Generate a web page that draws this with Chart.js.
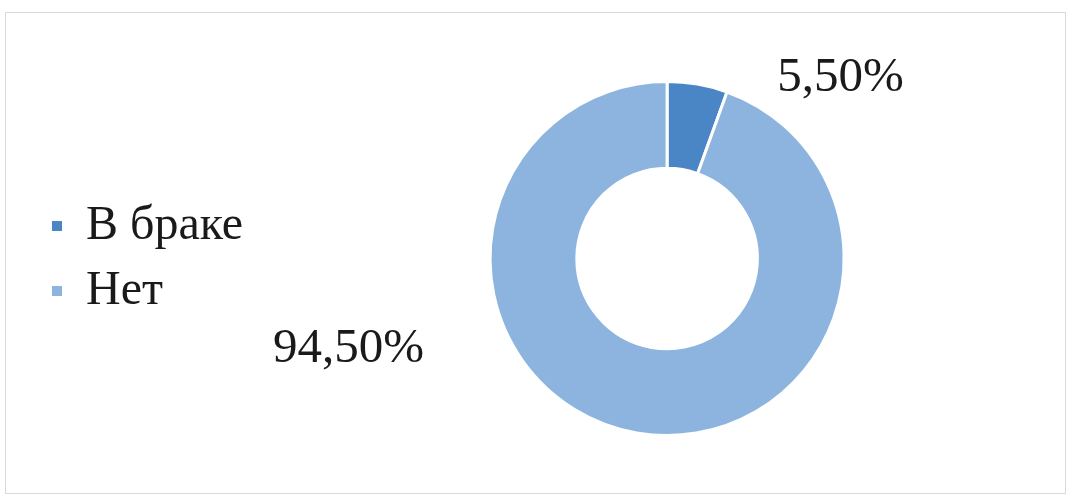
<!DOCTYPE html>
<html>
<head>
<meta charset="utf-8">
<script src="https://cdn.jsdelivr.net/npm/chart.js@4"></script>
<style>
  html, body { margin: 0; padding: 0; background: #fff; overflow: hidden; }
  #wrap { width: 1071px; height: 499px; overflow: hidden; }
</style>
</head>
<body>
<div id="wrap"><canvas id="chart" width="1081" height="499"></canvas></div>
<script>
// данные диаграммы
const categories = ['В браке', 'Нет'];
const shareValues = [5.5, 94.5];
const shareLabels = ['5,50%', '94,50%'];

const sliceColors = ['#4a86c5', '#8db4de'];
// смещение подписи от центра кольца, в долях внешнего радиуса
const labelOffsets = [[0.98, -1.02], [-1.80, 0.51]];

const frameBorder = {
    id: 'frameBorder',
    beforeDraw(chart) {
        const ctx = chart.ctx;
        ctx.save();
        ctx.fillStyle = '#fff';
        ctx.fillRect(0, 0, chart.width, chart.height);
        ctx.strokeStyle = '#d9d9d9';
        ctx.lineWidth = 1;
        ctx.strokeRect(5.5, 12.5, 1060, 481);
        ctx.restore();
    }
};

const outsideLabels = {
    id: 'outsideLabels',
    afterDatasetsDraw(chart) {
        const ctx = chart.ctx;
        const arcs = chart.getDatasetMeta(0).data;
        ctx.save();
        ctx.font = '49px "Liberation Serif"';
        ctx.fillStyle = '#1a1a1a';
        ctx.textAlign = 'center';
        ctx.textBaseline = 'middle';
        arcs.forEach((arc, i) => {
            const r = arc.outerRadius;
            ctx.fillText(shareLabels[i], arc.x + labelOffsets[i][0] * r, arc.y + labelOffsets[i][1] * r);
        });
        ctx.restore();
    }
};

new Chart(document.getElementById('chart'), {
    type: 'doughnut',
    data: {
        labels: categories,
        datasets: [{
            data: shareValues,
            backgroundColor: sliceColors,
            borderColor: '#ffffff',
            borderWidth: 3,
            radius: 177,
            cutout: '51%'
        }]
    },
    options: {
        responsive: false,
        animation: false,
        layout: { padding: { left: 35, top: 18, right: 0, bottom: 0 } },
        plugins: {
            tooltip: { enabled: false },
            legend: {
                position: 'left',
                labels: {
                    boxWidth: 10,
                    boxHeight: 10,
                    padding: 17,
                    color: '#1a1a1a',
                    font: { family: 'Liberation Serif', size: 48 },
                    generateLabels(chart) {
                        const items = Chart.overrides.doughnut.plugins.legend.labels.generateLabels(chart);
                        return items.map(it => Object.assign(it, { lineWidth: 0 }));
                    }
                }
            }
        }
    },
    plugins: [frameBorder, outsideLabels]
});
</script>
</body>
</html>
